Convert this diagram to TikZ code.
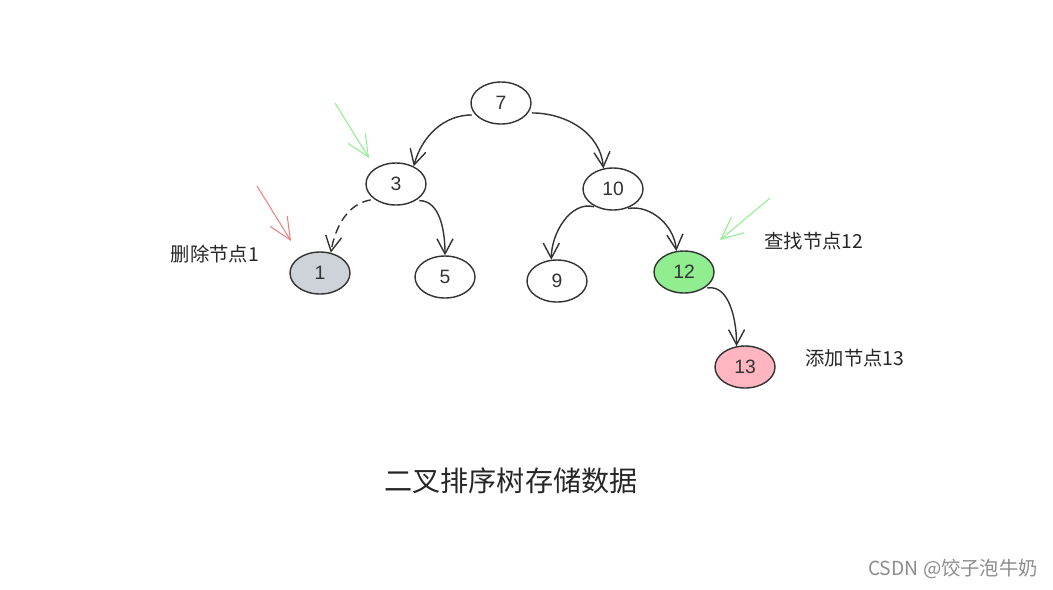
\documentclass[tikz,border=0pt]{standalone}
\usepackage{fontspec}
\setmainfont{Liberation Sans}
\newfontfamily\cjk{Noto Sans CJK SC}
\usepackage{xcolor}
\usetikzlibrary{arrows.meta,positioning,shapes}
\definecolor{edge}{HTML}{333333}
\definecolor{delfill}{HTML}{CED3DA}
\definecolor{findfill}{HTML}{90EE90}
\definecolor{addfill}{HTML}{FFB6C1}
\definecolor{hintgreen}{HTML}{90EE90}
\definecolor{hintred}{HTML}{F08080}

\begin{document}
\begin{tikzpicture}[
    x=0.02cm, y=-0.02cm,
    key/.style={ellipse, draw=edge, fill=white, line width=0.8pt, minimum width=1.2cm, minimum height=0.84cm, inner sep=0pt, font=\fontsize{11}{13}\selectfont, text=black!80},
    label/.style={font=\cjk\fontsize{11}{13}\selectfont, text=black!85},
    arrow/.style={-{Straight Barb[length=3mm,width=3.2mm]}, line width=0.8pt, draw=edge, shorten <=2pt},
    hint/.style={-{Straight Barb[length=4.4mm,width=4mm]}, line width=0.6pt}
]
\useasboundingbox (0,0) rectangle (1053,589);

% Root
\node[key] (n7) at (501,103) {7};

% Second level
\node[key] (n3) at (396,184) {3};
\node[key] (n10) at (613,189) {10};

% Third level
\node[key, fill=delfill] (n1) at (320,273) {1};
\node[key] (n5) at (445,277) {5};
\node[key] (n9) at (557,281) {9};
\node[key, fill=findfill] (n12) at (684,272) {12};

% Fourth level
\node[key, fill=addfill] (n13) at (745,367) {13};

% Edges
\draw[arrow] (n7.205) to[out=180,in=75] (n3.45);
\draw[arrow] (n7.340) to[out=0,in=95] (n10.115);
\draw[arrow, dash pattern=on 5pt off 3pt] (n3.215) to[out=190,in=80] (n1.62);
\draw[arrow] (n3.320) to[out=0,in=90] (n5.90);
\draw[arrow] (n10.230) to[out=165,in=90] (n9.105);
\draw[arrow] (n10.300) to[out=10,in=95] (n12.110);
\draw[arrow] (n12.320) to[out=10,in=90] (n13.112);

% Hint arrows
\coordinate (h1) at (335,103);
\coordinate (h1tip) at (369,158);
\coordinate (h2) at (257,186);
\coordinate (h2tip) at (291,241);
\coordinate (h3) at (770,198);
\coordinate (h3tip) at (720,240);
\draw[hint, draw=hintgreen] (h1) -- (h1tip);
\draw[hint, draw=hintred] (h2) -- (h2tip);
\draw[hint, draw=hintgreen] (h3) -- (h3tip);

% Labels
\node[label] (del) at (215,254) {删除节点1};
\node[label] (find) at (814,241) {查找节点12};
\node[label] (add) at (855,358) {添加节点13};
\node[font=\cjk\fontsize{16}{19}\selectfont, text=black!85] (title) at (511,481) {二叉排序树存储数据};
\node[font=\cjk\fontsize{11}{13}\selectfont, text=black!45] (mark) at (953,569) {CSDN @饺子泡牛奶};

\end{tikzpicture}
\end{document}
